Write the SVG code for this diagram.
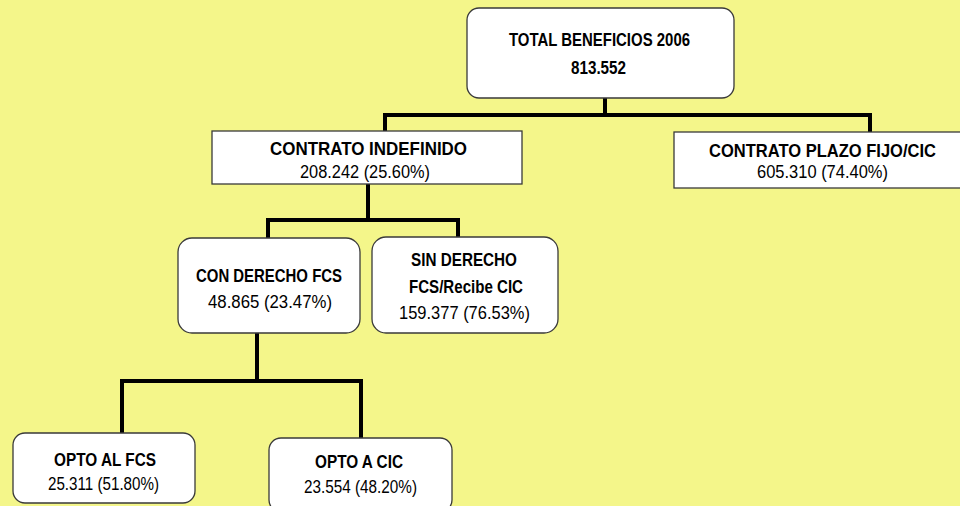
<svg xmlns="http://www.w3.org/2000/svg" width="960" height="506" viewBox="0 0 960 506">
<style>
.box{fill:#ffffff;stroke:#3a3a3a;stroke-width:1.3}
.t{font-family:"Liberation Sans",Arial,sans-serif;font-weight:bold;font-size:19px;fill:#000;text-anchor:middle}
.n{font-family:"Liberation Sans",Arial,sans-serif;font-size:18px;fill:#000;text-anchor:middle}
.c{fill:none;stroke:#000;stroke-width:4;stroke-linejoin:miter;stroke-linecap:square}
</style>
<rect x="0" y="0" width="960" height="506" fill="#F4F68A"/>
<g id="connectors">
<path class="c" d="M605,98 V115"/>
<path class="c" d="M385,131 V115 H870 V132"/>
<path class="c" d="M368,184 V220"/>
<path class="c" d="M268,238 V220 H458 V237"/>
<path class="c" d="M257,333 V381"/>
<path class="c" d="M122,433 V381 H361 V438"/>
</g>
<g id="total">
<rect class="box" x="467" y="8" width="267" height="90" rx="12"/>
<text class="t" x="599.5" y="46" textLength="181" lengthAdjust="spacingAndGlyphs">TOTAL BENEFICIOS 2006</text>
<text class="t" x="598.5" y="74" textLength="55" lengthAdjust="spacingAndGlyphs">813.552</text>
</g>
<g id="indefinido">
<rect class="box" x="212" y="131" width="310" height="53"/>
<text class="t" x="368.5" y="155" textLength="197" lengthAdjust="spacingAndGlyphs">CONTRATO INDEFINIDO</text>
<text class="n" x="365" y="178" textLength="130" lengthAdjust="spacingAndGlyphs">208.242 (25.60%)</text>
</g>
<g id="plazo">
<rect class="box" x="674" y="132" width="300" height="56"/>
<text class="t" x="822.5" y="157" textLength="227" lengthAdjust="spacingAndGlyphs">CONTRATO PLAZO FIJO/CIC</text>
<text class="n" x="822.5" y="178" textLength="131" lengthAdjust="spacingAndGlyphs">605.310 (74.40%)</text>
</g>
<g id="con-derecho">
<rect class="box" x="178" y="238" width="182" height="95" rx="14"/>
<text class="t" x="269" y="282" textLength="146" lengthAdjust="spacingAndGlyphs">CON DERECHO FCS</text>
<text class="n" x="270" y="308" textLength="124" lengthAdjust="spacingAndGlyphs">48.865 (23.47%)</text>
</g>
<g id="sin-derecho">
<rect class="box" x="372" y="237" width="186" height="96" rx="14"/>
<text class="t" x="464" y="266" textLength="106" lengthAdjust="spacingAndGlyphs">SIN DERECHO</text>
<text class="t" x="466" y="293" textLength="114" lengthAdjust="spacingAndGlyphs">FCS/Recibe CIC</text>
<text class="n" x="464.5" y="319" textLength="131" lengthAdjust="spacingAndGlyphs">159.377 (76.53%)</text>
</g>
<g id="opto-fcs">
<rect class="box" x="13" y="433" width="182" height="70" rx="12"/>
<text class="t" x="105" y="466" textLength="102" lengthAdjust="spacingAndGlyphs">OPTO AL FCS</text>
<text class="n" x="103.5" y="490" textLength="111" lengthAdjust="spacingAndGlyphs">25.311 (51.80%)</text>
</g>
<g id="opto-cic">
<rect class="box" x="269" y="438" width="183" height="74" rx="12"/>
<text class="t" x="359" y="468" textLength="88" lengthAdjust="spacingAndGlyphs">OPTO A CIC</text>
<text class="n" x="360.5" y="493" textLength="113" lengthAdjust="spacingAndGlyphs">23.554 (48.20%)</text>
</g>
</svg>
